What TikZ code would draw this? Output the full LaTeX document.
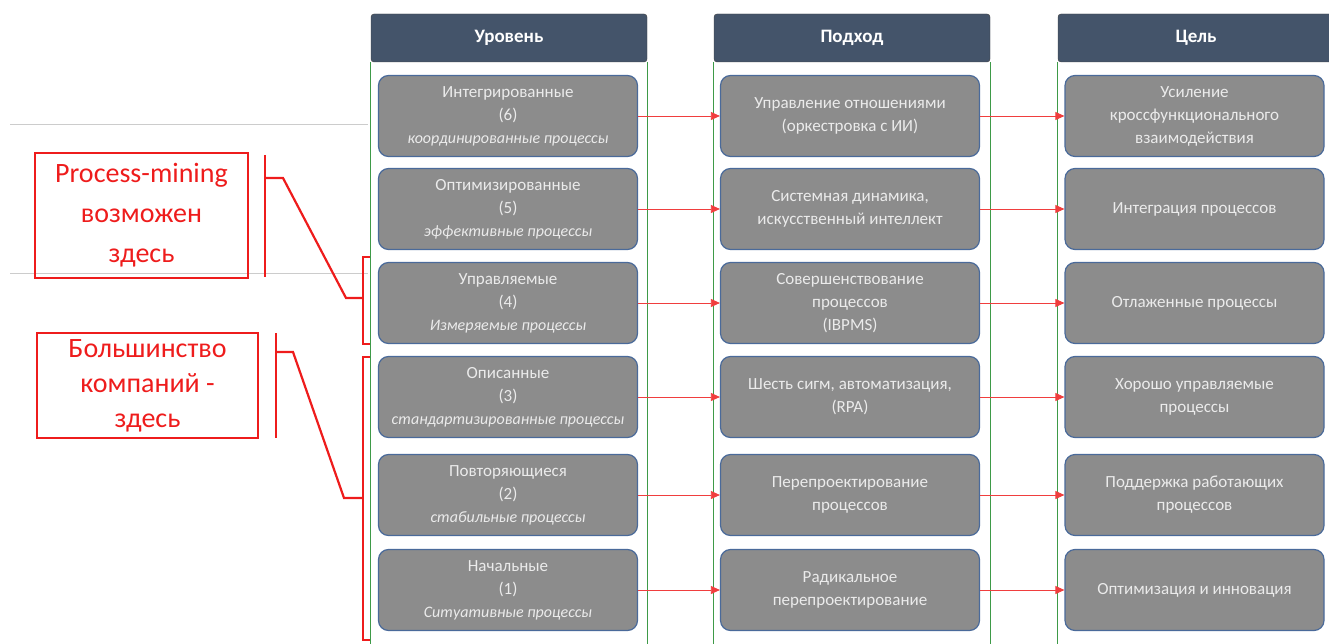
\documentclass[tikz,border=0pt]{standalone}
\usepackage{fontspec}
\setmainfont{Carlito}
\usepackage{tikz}
\usetikzlibrary{arrows.meta,positioning}
\definecolor{hdrblue}{HTML}{44546A}
\definecolor{boxgray}{HTML}{8C8C8C}
\definecolor{boxline}{HTML}{4A6A9A}
\definecolor{grngreen}{HTML}{3E9A48}
\definecolor{notered}{HTML}{EE1C1C}
\newcommand{\sub}[1]{{\fontsize{16}{23}\selectfont\itshape #1}}

\begin{document}
\begin{tikzpicture}[x=1pt, y=-1pt,
    hdr/.style={rectangle, draw=black!75, fill=hdrblue, rounded corners=3pt,
                minimum width=276pt, minimum height=48pt, text=white,
                font=\fontsize{19}{23}\selectfont\bfseries},
    box/.style={rectangle, draw=boxline, line width=1.2pt, fill=boxgray, rounded corners=10pt,
                minimum width=259pt, minimum height=81pt, align=center,
                text=white!92!black, font=\fontsize{17}{23}\selectfont},
    grnframe/.style={grngreen, line width=1pt},
    arr/.style={-{Triangle[length=9pt,width=8pt]}, notered!85!white, line width=0.8pt},
    note/.style={rectangle, draw=notered, line width=2.2pt, align=center, text=notered,
                 font=\fontsize{28}{40}\selectfont},
    brk/.style={notered, line width=2.2pt},
    faint/.style={black!20, line width=0.8pt}
]
    \useasboundingbox (0,0) rectangle (1329,644);

    % faint guide lines behind everything
    \draw[faint] (10,124) -- (368,124);
    \draw[faint] (10,273) -- (368,273);

    % column headers and frames
    \node[hdr] (hdrLevel) at (509,38) {Уровень};
    \node[hdr] (hdrApproach) at (852,38) {Подход};
    \node[hdr] (hdrGoal) at (1196,38) {Цель};

    \draw[grnframe] (hdrLevel.south west) -- ++(0,590);
    \draw[grnframe] (hdrLevel.south east) -- ++(0,590);
    \draw[grnframe] (hdrApproach.south west) -- ++(0,590);
    \draw[grnframe] (hdrApproach.south east) -- ++(0,590);
    \draw[grnframe] (hdrGoal.south west) -- ++(0,590);

    % levels
    \node[box] (lvl6) at (508,116) {Интегрированные\\(6)\\\sub{координированные процессы}};
    \node[box] (lvl5) at (508,209) {Оптимизированные\\(5)\\\sub{эффективные процессы}};
    \node[box] (lvl4) at (508,303) {Управляемые\\(4)\\\sub{Измеряемые процессы}};
    \node[box] (lvl3) at (508,397) {Описанные\\(3)\\\sub{стандартизированные процессы}};
    \node[box] (lvl2) at (508,495) {Повторяющиеся\\(2)\\\sub{стабильные процессы}};
    \node[box] (lvl1) at (508,590) {Начальные\\(1)\\\sub{Ситуативные процессы}};

    % approaches
    \node[box] (app6) at (850,116) {Управление отношениями\\(оркестровка с ИИ)};
    \node[box] (app5) at (850,209) {Системная динамика,\\искусственный интеллект};
    \node[box] (app4) at (850,303) {Совершенствование\\процессов\\(IBPMS)};
    \node[box] (app3) at (850,397) {Шесть сигм, автоматизация,\\(RPA)};
    \node[box] (app2) at (850,495) {Перепроектирование\\процессов};
    \node[box] (app1) at (850,590) {Радикальное\\перепроектирование};

    % goals
    \node[box] (goal6) at (1194.5,116) {Усиление\\кроссфункционального\\взаимодействия};
    \node[box] (goal5) at (1194.5,209) {Интеграция процессов};
    \node[box] (goal4) at (1194.5,303) {Отлаженные процессы};
    \node[box] (goal3) at (1194.5,397) {Хорошо управляемые\\процессы};
    \node[box] (goal2) at (1194.5,495) {Поддержка работающих\\процессов};
    \node[box] (goal1) at (1194.5,590) {Оптимизация и инновация};

    \draw[arr] (lvl6) -- (app6);
    \draw[arr] (lvl5) -- (app5);
    \draw[arr] (lvl4) -- (app4);
    \draw[arr] (lvl3) -- (app3);
    \draw[arr] (lvl2) -- (app2);
    \draw[arr] (lvl1) -- (app1);
    \draw[arr] (app6) -- (goal6);
    \draw[arr] (app5) -- (goal5);
    \draw[arr] (app4) -- (goal4);
    \draw[arr] (app3) -- (goal3);
    \draw[arr] (app2) -- (goal2);
    \draw[arr] (app1) -- (goal1);

    % red notes with brackets
    \node[note, minimum width=213pt, minimum height=125pt] (notePM) at (141.5,215.5)
        {Process-mining\\возможен\\здесь};
    \node[note, minimum width=221pt, minimum height=105pt, font=\fontsize{28}{35}\selectfont]
        (noteMost) at (147.5,385.5) {Большинство\\компаний -\\здесь};

    \coordinate (pmBarTop) at (265,155);
    \coordinate (pmBarBot) at (265,277);
    \coordinate (pmKnee) at (283,178);
    \coordinate (pmTip) at (346,298);
    \coordinate (pmBrTop) at (363,257);
    \coordinate (pmBrBot) at (363,344);
    \draw[brk] (pmBarTop) -- (pmBarBot);
    \draw[brk] (pmBarTop |- pmKnee) -- (pmKnee) -- (pmTip) -- (pmTip -| pmBrTop);
    \draw[brk] ([xshift=7pt]pmBrTop) -- (pmBrTop) -- (pmBrBot) -- ([xshift=7pt]pmBrBot);

    \coordinate (mostBarTop) at (276,333);
    \coordinate (mostBarBot) at (276,438);
    \coordinate (mostKnee) at (293,352);
    \coordinate (mostTip) at (344,498);
    \coordinate (mostBrTop) at (363,357);
    \coordinate (mostBrBot) at (363,640);
    \draw[brk] (mostBarTop) -- (mostBarBot);
    \draw[brk] (mostBarTop |- mostKnee) -- (mostKnee) -- (mostTip) -- (mostTip -| mostBrTop);
    \draw[brk] ([xshift=7pt]mostBrTop) -- (mostBrTop) -- (mostBrBot) -- ([xshift=7pt]mostBrBot);
\end{tikzpicture}
\end{document}
